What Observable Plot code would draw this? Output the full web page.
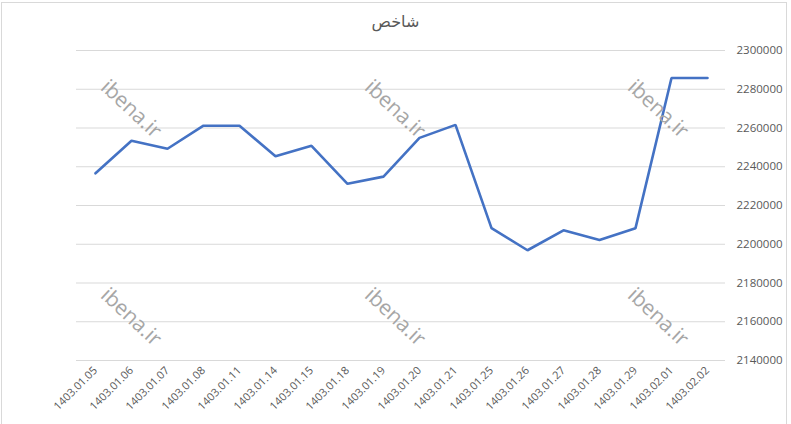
<!DOCTYPE html>
<html>
<head>
<meta charset="utf-8">
<script src="https://cdn.jsdelivr.net/npm/d3@7"></script>
<script src="https://cdn.jsdelivr.net/npm/@observablehq/plot@0.6"></script>
<style>
  html, body { margin: 0; padding: 0; background: #ffffff; }
  #wrap { position: relative; width: 791px; height: 424px; overflow: hidden; background: #fff; font-family: "Open Sans", Roboto, sans-serif; }
  #frame { position: absolute; left: 1px; top: 2px; width: 786px; height: 430px; border: 1px solid #d9d9d9; box-sizing: border-box; }
  #title { position: absolute; left: 0; top: 0; width: 791px; height: 40px; line-height: 44px; text-align: center; font-size: 16px; color: #595959; font-family: "DejaVu Sans", "Noto Sans", sans-serif; }
  #chart { position: absolute; left: 0; top: 40px; }
  .wm { position: absolute; font-size: 21px; color: #a6a6a6; transform: translate(-50%, -50%) rotate(43deg); white-space: nowrap; font-family: "Open Sans", "Noto Sans", sans-serif; pointer-events: none; }
</style>
</head>
<body>
<div id="wrap">
  <div id="frame"></div>
  <div id="title">شاخص</div>
  <div id="chart"></div>
</div>
<script>
const dates = ["1403.01.05","1403.01.06","1403.01.07","1403.01.08","1403.01.11","1403.01.14","1403.01.15","1403.01.18","1403.01.19","1403.01.20","1403.01.21","1403.01.25","1403.01.26","1403.01.27","1403.01.28","1403.01.29","1403.02.01","1403.02.02"];
const values = [2236600,2253400,2249300,2261200,2261200,2245400,2250800,2231200,2234900,2254900,2261600,2208300,2196900,2207200,2202200,2208300,2285800,2285800];
const yTicks = [2140000,2160000,2180000,2200000,2220000,2240000,2260000,2280000,2300000];
const watermark = "ibena.ir";
const watermarkSpots = [[132,108],[396,108],[659,108],[132,316],[396,316],[659,316]];

const data = dates.map((d, i) => ({date: d, value: values[i]}));

const chart = Plot.plot({
  width: 791,
  height: 384,
  marginTop: 10,
  marginBottom: 64,
  marginLeft: 76,
  marginRight: 66,
  style: {fontFamily: "Open Sans, Roboto, sans-serif", color: "#595959", background: "transparent"},
  x: {type: "point", domain: dates, padding: 0.5, label: null},
  y: {domain: [2140000, 2300000], label: null},
  marks: [
    Plot.ruleY(yTicks, {stroke: "#d9d9d9", strokeWidth: 1}),
    Plot.axisY({anchor: "right", ticks: yTicks, tickSize: 0, tickPadding: 11, tickFormat: d => String(d), fontSize: 11.5, fill: "#595959"}),
    Plot.axisX({anchor: "bottom", tickSize: 0, tickRotate: -45, tickPadding: 8, fontSize: 11, fill: "#595959"}),
    Plot.line(data, {x: "date", y: "value", stroke: "#4472C4", strokeWidth: 2.6, strokeLinejoin: "miter"})
  ]
});
document.getElementById("chart").appendChild(chart);

const wrap = document.getElementById("wrap");
for (const [x, y] of watermarkSpots) {
  const el = document.createElement("div");
  el.className = "wm";
  el.textContent = watermark;
  el.style.left = x + "px";
  el.style.top = y + "px";
  wrap.appendChild(el);
}
</script>
</body>
</html>
